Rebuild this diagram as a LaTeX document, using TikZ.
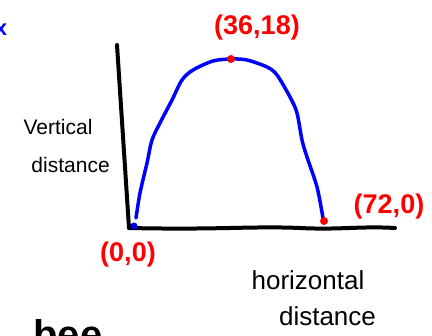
\documentclass[tikz,border=0pt]{standalone}
\usepackage{fontspec}
\setmainfont{Liberation Sans}
\usetikzlibrary{positioning}

\tikzset{
  axisline/.style={line width=4pt,line cap=round,black},
  pathline/.style={line width=3.5pt,line cap=round,blue},
  reddot/.style={circle,fill=red,inner sep=0pt,minimum size=8pt},
  bluedot/.style={circle,fill=blue,inner sep=0pt,minimum size=7pt},
  pointlabel/.style={text=red,font=\bfseries\fontsize{27}{30}\selectfont,inner sep=1pt},
  handlabel/.style={text=black,font=\fontsize{21}{38}\selectfont,inner sep=1pt,align=center}
}

\begin{document}
\begin{tikzpicture}[x=1pt,y=-1pt]
	\useasboundingbox[fill=white] (0,0) rectangle (432,336);
	\begin{scope}
		\clip (0,0) rectangle (432,336);
		% fragments cut by the edges
		\node[text=blue,font=\bfseries\fontsize{22}{24}\selectfont] (xcut) at (1,30) {x};
		\node[text=black,font=\bfseries\fontsize{40}{42}\selectfont,anchor=base west] (beecut) at (30,349) {bee};
	\end{scope}

	% axes
	\coordinate (ytop) at (117,45);
	\coordinate (orig) at (129,228);
	\coordinate (xend) at (395,228);
	\draw[axisline] (ytop)--(orig);
	\draw[axisline] (orig) .. controls (220,230) and (250,226) .. (300,228) .. controls (340,230) and (360,226) .. (xend);

	% flight path
	\draw[pathline] plot[smooth,tension=0.5] coordinates {(136,218) (140,193) (147,163) (152,140) (160,123) (172,100) (182,80) (193,70) (213,61) (231,59) (247,60) (267,67) (277,75) (290,97) (297,113) (302,140) (307,157) (317,187) (323,218)};

	\node[bluedot] (start) at (134,226) {};
	\node[reddot] (peak) at (231,59) {};
	\node[reddot] (land) at (324,221) {};

	\node[pointlabel] (peaklbl) at (257,28) {(36,18)};
	\node[pointlabel] (landlbl) at (389,207) {(72,0)};
	\node[pointlabel] (startlbl) at (128,255) {(0,0)};

	\node[handlabel] (vlbl) at (58,146) {Vertical\\\hspace*{1.2em}distance};
	\node[handlabel,font=\fontsize{26}{36}\selectfont] (hlbl) at (308,298) {horizontal\\\hspace*{1.5em}distance};
\end{tikzpicture}
\end{document}
